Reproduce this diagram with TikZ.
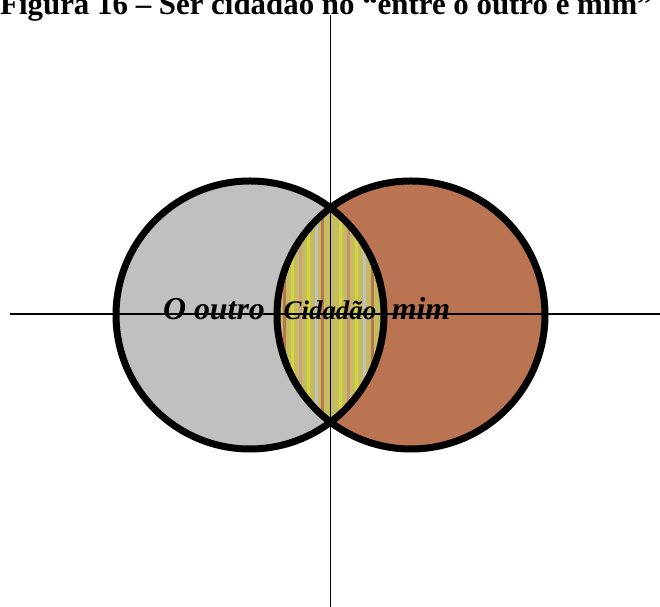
\documentclass[tikz,border=0pt]{standalone}
\usepackage{fontspec}
\setmainfont{Liberation Serif}
\usepackage{xcolor}
\usetikzlibrary{positioning}
\definecolor{outrogray}{RGB}{192,192,192}
\definecolor{mimbrown}{RGB}{186,116,82}
\definecolor{lensgreen}{RGB}{196,188,96}
\definecolor{lensyellow}{RGB}{214,214,60}

\begin{document}
\begin{tikzpicture}[x=1bp, y=1bp,
    ring/.style={draw=black, line width=7bp},
    axis/.style={draw=black, line width=1.3bp},
    lbl/.style={font=\fontsize{32}{34}\selectfont\bfseries\itshape, inner sep=0pt, anchor=base}]
    \useasboundingbox (0,0) rectangle (660,607);

    % Title (cut by the top edge)
    \node[anchor=base west, inner sep=0pt, font=\fontsize{31}{34}\selectfont\bfseries] (title) at (0,592) {Figura 16 – Ser cidadão no “entre o outro e mim”};

    % Circle centres
    \coordinate (co) at (250,292);
    \coordinate (cm) at (411,292);

    % Fills
    \fill[outrogray] (co) circle (134);
    \fill[mimbrown] (cm) circle (134);
    \begin{scope}
        \clip (co) circle (134);
        \clip (cm) circle (134);
        \fill[lensgreen] (cm) circle (134);
        \foreach \x/\c in {284/mimbrown, 292/lensyellow, 300/mimbrown!70, 308/lensyellow, 316/outrogray, 322/mimbrown, 340/lensyellow, 348/mimbrown!80, 356/lensyellow, 364/outrogray, 372/mimbrown}
            \draw[\c, line width=3bp] (\x,150) -- (\x,440);
    \end{scope}

    % Outlines
    \draw[ring] (co) circle (134);
    \draw[ring] (cm) circle (134);

    % Axes
    \coordinate (vtop) at (330.5,592);
    \coordinate (vbot) at (330.5,0);
    \coordinate (hleft) at (10,293);
    \coordinate (hright) at (660,293);
    \draw[axis] (vtop) -- (vbot);
    \draw[axis] (hleft) -- (hright);

    % Labels
    \node[lbl] (outro) at (214,287) {O outro};
    \node[lbl, font=\fontsize{27}{30}\selectfont\bfseries\itshape] (cidadao) at (330,287) {Cidadão};
    \node[lbl] (mim) at (421,287) {mim};
\end{tikzpicture}
\end{document}
